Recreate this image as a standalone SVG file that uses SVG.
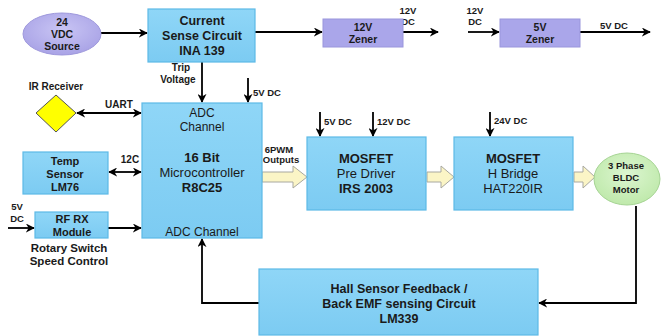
<svg xmlns="http://www.w3.org/2000/svg" width="670" height="336" viewBox="0 0 670 336">
<defs>
<marker id="ah" viewBox="0 0 10 10" refX="9" refY="5" markerWidth="9" markerHeight="9" markerUnits="userSpaceOnUse" orient="auto-start-reverse">
<path d="M0,0 L10,5 L0,10 L3,5 z" fill="#000"/>
</marker>
<linearGradient id="gBlue" x1="0" y1="0" x2="0" y2="1"><stop offset="0" stop-color="#8fd6f7"/><stop offset="1" stop-color="#7ccbf2"/></linearGradient>
<radialGradient id="gLav" cx="0.5" cy="0.4" r="0.6"><stop offset="0" stop-color="#c9c5f4"/><stop offset="1" stop-color="#a9a3e6"/></radialGradient>
<radialGradient id="gGreen" cx="0.5" cy="0.4" r="0.6"><stop offset="0" stop-color="#dcf6d0"/><stop offset="1" stop-color="#bfe9ab"/></radialGradient>
<style>
.box{fill:url(#gBlue);stroke:#5db9e6;stroke-width:1.2}
.zen{fill:#aaa6ea;stroke:#9a96dc;stroke-width:1}
.t{font-family:"Liberation Sans",Arial,sans-serif;text-anchor:middle;fill:#1a1a1a}
.b{font-weight:bold}
.m13{font-size:12.5px}
.m14{font-size:13px}
.s10{font-size:10px;font-weight:bold}
.s9{font-size:9.5px;font-weight:bold}
.ln{fill:none;stroke:#000;stroke-width:1.8}
.fat{fill:#fbf5c6;stroke:#a8a8a0;stroke-width:1}
.l{text-anchor:start}
</style>
</defs>

<g id="connectors">
<line class="ln" x1="101" y1="33" x2="147" y2="33" marker-end="url(#ah)"/>
<line class="ln" x1="255" y1="32" x2="322" y2="32" marker-end="url(#ah)"/>
<line class="ln" x1="403" y1="32" x2="438" y2="32" marker-end="url(#ah)"/>
<line class="ln" x1="468" y1="32" x2="499" y2="32" marker-end="url(#ah)"/>
<line class="ln" x1="580" y1="32" x2="650" y2="32" marker-end="url(#ah)"/>
<line class="ln" x1="202" y1="62" x2="202" y2="102" marker-end="url(#ah)"/>
<line class="ln" x1="248" y1="78" x2="248" y2="102" marker-end="url(#ah)"/>
<line class="ln" x1="77" y1="113" x2="141" y2="113" marker-start="url(#ah)" marker-end="url(#ah)"/>
<line class="ln" x1="109" y1="172" x2="141" y2="172" marker-start="url(#ah)" marker-end="url(#ah)"/>
<line class="ln" x1="8" y1="228" x2="34" y2="228" marker-end="url(#ah)"/>
<line class="ln" x1="108" y1="228" x2="141" y2="228" marker-end="url(#ah)"/>
<polyline class="ln" points="259,303 202,303 202,239" marker-end="url(#ah)"/>
<polyline class="ln" points="636,206 636,303 539,303" marker-end="url(#ah)"/>
<line class="ln" x1="320" y1="112" x2="320" y2="136" marker-end="url(#ah)"/>
<line class="ln" x1="373" y1="112" x2="373" y2="136" marker-end="url(#ah)"/>
<line class="ln" x1="490" y1="112" x2="490" y2="136" marker-end="url(#ah)"/>
<path class="fat" d="M262,172 L293,172 L293,166 L307,177 L293,188 L293,182 L262,182 Z"/>
<path class="fat" d="M427,172 L441,172 L441,166 L454,177 L441,188 L441,182 L427,182 Z"/>
<path class="fat" d="M574,172 L583,172 L583,166 L595,177 L583,188 L583,182 L574,182 Z"/>
</g>

<g id="labels">
<text class="t s9" x="408" y="14">12V</text>
<text class="t s9" x="408" y="25">DC</text>
<text class="t s9" x="475" y="14">12V</text>
<text class="t s9" x="475" y="25">DC</text>
<text class="t s9" x="614" y="29">5V DC</text>
<text class="t s10" x="181" y="71">Trip</text>
<text class="t s10" x="178" y="83">Voltage</text>
<text class="t s9 l" x="253" y="96">5V DC</text>
<text class="t s10" x="56" y="90">IR Receiver</text>
<text class="t s10" x="119" y="108">UART</text>
<text class="t s10" x="130" y="163">12C</text>
<text class="t s9" x="17" y="210">5V</text>
<text class="t s9" x="17" y="222">DC</text>
<text class="t b" style="font-size:11.5px" x="69" y="252">Rotary Switch</text>
<text class="t b" style="font-size:11.5px" x="69" y="265">Speed Control</text>
<text class="t s9" x="279" y="153">6PWM</text>
<text class="t s9" x="281" y="163">Outputs</text>
<text class="t s9 l" x="324" y="125">5V DC</text>
<text class="t s9 l" x="377" y="125">12V DC</text>
<text class="t s9 l" x="494" y="124">24V DC</text>
</g>

<g id="source24">
<ellipse cx="62" cy="34" rx="39" ry="21" fill="url(#gLav)" stroke="#9e98dc" stroke-width="1"/>
<text class="t b" style="font-size:10.5px" x="62" y="26">24</text>
<text class="t b" style="font-size:10.5px" x="62" y="38">VDC</text>
<text class="t b" style="font-size:10.5px" x="62" y="50">Source</text>
</g>

<g id="currentSense">
<rect class="box" x="148" y="9" width="107" height="53"/>
<text class="t b m13" x="202" y="25">Current</text>
<text class="t b m13" x="202" y="40">Sense Circuit</text>
<text class="t b m13" x="202" y="55">INA 139</text>
</g>

<g id="zener12">
<rect class="zen" x="323" y="19" width="80" height="28"/>
<text class="t b" style="font-size:10.5px" x="363" y="31">12V</text>
<text class="t b" style="font-size:10.5px" x="363" y="43">Zener</text>
</g>

<g id="zener5">
<rect class="zen" x="500" y="19" width="80" height="28"/>
<text class="t b" style="font-size:10.5px" x="540" y="31">5V</text>
<text class="t b" style="font-size:10.5px" x="540" y="43">Zener</text>
</g>

<g id="irReceiver">
<polygon points="56,95 76,113 56,132 36,113" fill="#ffff00" stroke="#555" stroke-width="1"/>
</g>

<g id="micro">
<rect class="box" x="142" y="103" width="120" height="135"/>
<text class="t" style="font-size:12px" x="202" y="117">ADC</text>
<text class="t" style="font-size:12px" x="202" y="131">Channel</text>
<text class="t b m14" x="202" y="162">16 Bit</text>
<text class="t m14" x="202" y="177">Microcontroller</text>
<text class="t b m14" x="202" y="192">R8C25</text>
<text class="t" style="font-size:12px" x="202" y="236">ADC Channel</text>
</g>

<g id="tempSensor">
<rect class="box" x="23" y="152" width="85" height="42"/>
<text class="t b" style="font-size:11px" x="65" y="165">Temp</text>
<text class="t b" style="font-size:11px" x="65" y="178">Sensor</text>
<text class="t b" style="font-size:11px" x="65" y="191">LM76</text>
</g>

<g id="rfrx">
<rect class="box" x="35" y="212" width="73" height="26"/>
<text class="t b" style="font-size:11px" x="72" y="223">RF RX</text>
<text class="t b" style="font-size:11px" x="72" y="236">Module</text>
</g>

<g id="preDriver">
<rect class="box" x="307" y="137" width="119" height="73"/>
<text class="t b m14" x="366" y="163">MOSFET</text>
<text class="t m14" x="366" y="178">Pre Driver</text>
<text class="t b m14" x="366" y="193">IRS 2003</text>
</g>

<g id="hBridge">
<rect class="box" x="454" y="137" width="119" height="73"/>
<text class="t b m14" x="513" y="163">MOSFET</text>
<text class="t m14" x="513" y="178">H Bridge</text>
<text class="t m14" x="513" y="193">HAT220IR</text>
</g>

<g id="motor">
<ellipse cx="627" cy="179" rx="33" ry="26" fill="url(#gGreen)" stroke="#a6d494" stroke-width="1"/>
<text class="t s9" x="626" y="169">3 Phase</text>
<text class="t s9" x="626" y="181">BLDC</text>
<text class="t s9" x="626" y="193">Motor</text>
</g>

<g id="hall">
<rect class="box" x="259" y="269" width="279" height="66"/>
<text class="t b m13" x="399" y="293">Hall Sensor Feedback /</text>
<text class="t b m13" x="399" y="308">Back EMF sensing Circuit</text>
<text class="t b m13" x="399" y="323">LM339</text>
</g>
</svg>
